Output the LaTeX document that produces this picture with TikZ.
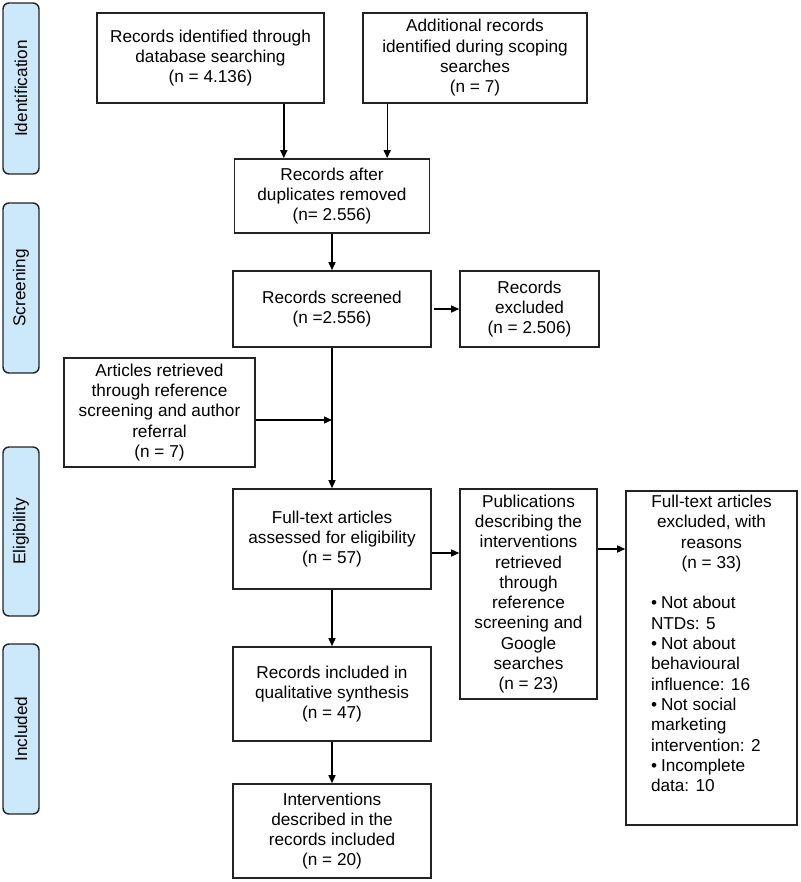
\documentclass[tikz,border=0pt]{standalone}
\usepackage{fontspec}
\setmainfont{Liberation Sans}
\usetikzlibrary{arrows.meta}

\definecolor{framegray}{RGB}{35,35,35}
\definecolor{stagefill}{RGB}{204,232,251}

\begin{document}
\begin{tikzpicture}[x=1pt,y=-1pt,
    box/.style={draw=framegray, line width=1.6pt, align=center, inner sep=2pt,
      font=\fontsize{17.2}{20.3}\selectfont},
    stage/.style={draw=framegray, fill=stagefill, line width=1.4pt, rounded corners=6pt,
      minimum height=36pt, rotate=90, font=\fontsize{17.2}{20.3}\selectfont},
    arr/.style={-{Triangle[length=8pt,width=7pt]}, line width=1.4pt, draw=black}]
    \useasboundingbox (0,0) rectangle (800,882);

    % phases
    \node[stage, minimum width=171pt] (sid) at (21,88.5) {Identification};
    \node[stage, minimum width=170pt] (ssc) at (21,288) {Screening};
    \node[stage, minimum width=169pt] (sel) at (21,531.5) {Eligibility};
    \node[stage, minimum width=170pt] (sin) at (21,729) {Included};

    \node[box, minimum width=227pt, minimum height=90pt] (db) at (210.5,58)
      {Records identified through\\database searching\\(n = 4.136)};
    \node[box, minimum width=224pt, minimum height=90pt] (add) at (475,58)
      {Additional records\\identified during scoping\\searches\\(n = 7)};
    \node[box, minimum width=195pt, minimum height=74pt] (dup) at (332,196)
      {Records after\\duplicates removed\\(n= 2.556)};
    \node[box, minimum width=198pt, minimum height=76pt] (scr) at (332,309)
      {Records screened\\(n =2.556)};
    \node[box, minimum width=139pt, minimum height=76pt] (exc) at (529.5,309)
      {Records\\excluded\\(n = 2.506)};
    \node[box, minimum width=191pt, minimum height=109pt] (ret) at (159.5,412.5)
      {Articles retrieved\\through reference\\screening and author\\referral\\(n = 7)};
    \node[box, minimum width=198pt, minimum height=100pt] (full) at (332,539)
      {Full-text articles\\assessed for eligibility\\(n = 57)};
    \node[box, minimum width=137pt, minimum height=210pt] (pub) at (528.5,594)
      {Publications\\describing the\\interventions\\retrieved\\through\\reference\\screening and\\Google\\searches\\(n = 23)};
    \node[box, minimum width=171pt, minimum height=334pt, inner sep=4pt] (rsn) at (711.5,658)
      {\parbox[c][326pt][t]{163pt}{\centering Full-text articles\\excluded, with\\reasons\\(n = 33)\par
       \vspace{20.3pt}\raggedright\leftskip=21pt
       \par\hangindent=10pt\hangafter=1\noindent\makebox[10pt][l]{\textbullet}Not about\\NTDs: 5
       \par\hangindent=10pt\hangafter=1\noindent\makebox[10pt][l]{\textbullet}Not about\\behavioural\\influence: 16
       \par\hangindent=10pt\hangafter=1\noindent\makebox[10pt][l]{\textbullet}Not social\\marketing\\intervention: 2
       \par\hangindent=10pt\hangafter=1\noindent\makebox[10pt][l]{\textbullet}Incomplete\\data: 10\par}};
    \node[box, minimum width=198pt, minimum height=94pt] (incl) at (332,694)
      {Records included in\\qualitative synthesis\\(n = 47)};
    \node[box, minimum width=198pt, minimum height=94pt] (intv) at (332,831)
      {Interventions\\described in the\\records included\\(n = 20)};

    % flow
    \draw[arr] ([xshift=-41pt]db.south east) -- ([xshift=-41pt]db.south east |- dup.north);
    \draw[arr] ([xshift=25pt]add.south west) -- ([xshift=25pt]add.south west |- dup.north);
    \draw[arr] (dup) -- (scr);
    \draw[arr, shorten <=2pt] (scr.east) -- (exc.west);
    \draw[arr] (scr) -- (full);
    \draw[arr] ([yshift=-7.5pt]ret.east) -- ([yshift=-7.5pt]ret.east -| scr.south);
    \draw[arr] ([yshift=-14pt]full.east) -- ([yshift=-14pt]full.east -| pub.west);
    \draw[arr] ([yshift=45pt]pub.east) -- ([yshift=45pt]pub.east -| rsn.west);
    \draw[arr] (full) -- (incl);
    \draw[arr] (incl) -- (intv);
\end{tikzpicture}
\end{document}
